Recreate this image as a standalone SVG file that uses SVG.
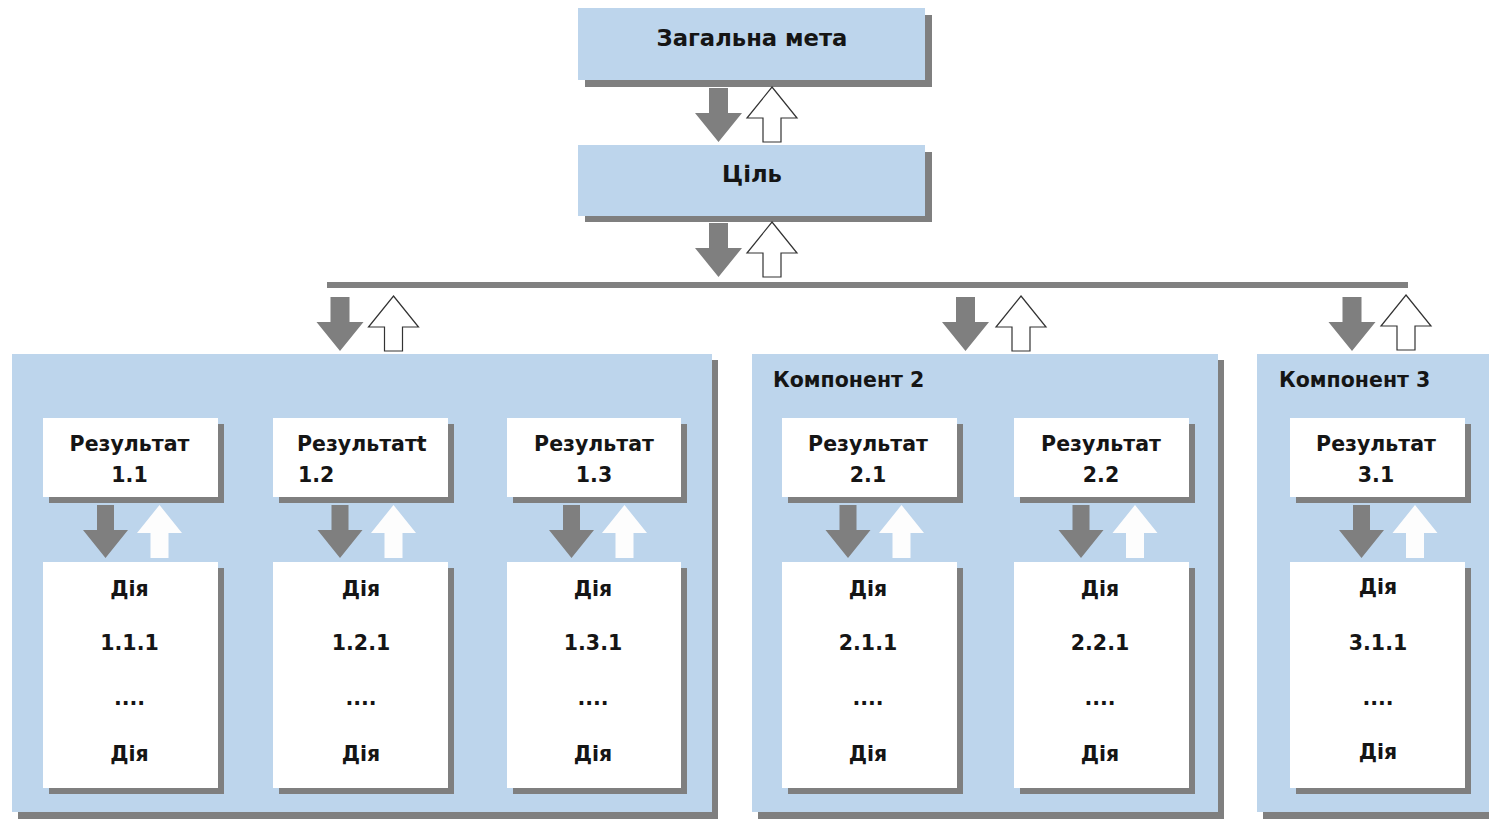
<svg xmlns="http://www.w3.org/2000/svg" xmlns:xlink="http://www.w3.org/1999/xlink" width="1489" height="819" viewBox="0 0 1489 819">
<style>
.bl{fill:#BDD5EC}
.sh{fill:#7f7f7f}
.wb{fill:#ffffff}
.t{font-family:"DejaVu Sans","Liberation Sans",sans-serif;font-weight:bold;font-size:20.5px;fill:#151515;text-anchor:middle}
.big{font-size:22.7px}
.tl{text-anchor:start}
</style>
<defs>
<path id="dn" d="M-9.5,0 H9.5 V25 H23.5 L0,54 L-23.5,25 H-9.5 Z" fill="#7f7f7f"/>
<path id="upo" d="M0,0 L25,31 H9 V55 H-9 V31 H-25 Z" fill="#ffffff" stroke="#333333" stroke-width="1.2"/>
<path id="dni" d="M-8.5,0 H8.5 V25 H22.5 L0,53 L-22.5,25 H-8.5 Z" fill="#7f7f7f"/>
<path id="upw" d="M0,0 L22.5,28 H9 V53 H-9 V28 H-22.5 Z" fill="#fdfdfd"/>
</defs>
<rect width="1489" height="819" fill="#ffffff"/>

<g id="goal">
<rect class="sh" x="585" y="15" width="347" height="72"/>
<rect class="bl" x="578" y="8" width="347" height="72"/>
<text class="t big" x="752" y="46">Загальна мета</text>
</g>
<g id="target">
<rect class="sh" x="585" y="152" width="347" height="70"/>
<rect class="bl" x="578" y="145" width="347" height="71"/>
<text class="t big" x="752" y="182">Ціль</text>
</g>

<g id="comp1">
<rect class="sh" x="18" y="360" width="700" height="459"/>
<rect class="bl" x="12" y="354" width="700" height="458"/>
</g>
<g id="comp2">
<rect class="sh" x="758" y="360" width="466" height="459"/>
<rect class="bl" x="752" y="354" width="466" height="458"/>
<text class="t tl" x="773" y="387">Компонент 2</text>
</g>
<g id="comp3">
<rect class="sh" x="1263" y="360" width="240" height="459"/>
<rect class="bl" x="1257" y="354" width="240" height="458"/>
<text class="t tl" x="1279" y="387">Компонент 3</text>
</g>

<g id="r11"><rect class="sh" x="49" y="424" width="175" height="79"/><rect class="wb" x="43" y="418" width="175" height="79"/>
<text class="t" x="129.5" y="451">Результат</text><text class="t" x="129.5" y="482">1.1</text></g>
<g id="r12"><rect class="sh" x="279" y="424" width="175" height="79"/><rect class="wb" x="273" y="418" width="175" height="79"/>
<text class="t tl" x="297" y="451">Результатt</text><text class="t tl" x="298" y="482">1.2</text></g>
<g id="r13"><rect class="sh" x="513" y="424" width="174" height="79"/><rect class="wb" x="507" y="418" width="174" height="79"/>
<text class="t" x="594" y="451">Результат</text><text class="t" x="594" y="482">1.3</text></g>
<g id="r21"><rect class="sh" x="788" y="424" width="175" height="79"/><rect class="wb" x="782" y="418" width="175" height="79"/>
<text class="t" x="868" y="451">Результат</text><text class="t" x="868" y="482">2.1</text></g>
<g id="r22"><rect class="sh" x="1020" y="424" width="175" height="79"/><rect class="wb" x="1014" y="418" width="175" height="79"/>
<text class="t" x="1101" y="451">Результат</text><text class="t" x="1101" y="482">2.2</text></g>
<g id="r31"><rect class="sh" x="1296" y="424" width="175" height="79"/><rect class="wb" x="1290" y="418" width="175" height="79"/>
<text class="t" x="1376" y="451">Результат</text><text class="t" x="1376" y="482">3.1</text></g>

<g id="a11"><rect class="sh" x="49" y="568" width="175" height="226"/><rect class="wb" x="43" y="562" width="175" height="226"/>
<text class="t" x="129.5" y="596">Дія</text><text class="t" x="129.5" y="650">1.1.1</text><text class="t" x="129.5" y="705">....</text><text class="t" x="129.5" y="761">Дія</text></g>
<g id="a12"><rect class="sh" x="279" y="568" width="175" height="226"/><rect class="wb" x="273" y="562" width="175" height="226"/>
<text class="t" x="361" y="596">Дія</text><text class="t" x="361" y="650">1.2.1</text><text class="t" x="361" y="705">....</text><text class="t" x="361" y="761">Дія</text></g>
<g id="a13"><rect class="sh" x="513" y="568" width="174" height="226"/><rect class="wb" x="507" y="562" width="174" height="226"/>
<text class="t" x="593" y="596">Дія</text><text class="t" x="593" y="650">1.3.1</text><text class="t" x="593" y="705">....</text><text class="t" x="593" y="761">Дія</text></g>
<g id="a21"><rect class="sh" x="788" y="568" width="175" height="226"/><rect class="wb" x="782" y="562" width="175" height="226"/>
<text class="t" x="868" y="596">Дія</text><text class="t" x="868" y="650">2.1.1</text><text class="t" x="868" y="705">....</text><text class="t" x="868" y="761">Дія</text></g>
<g id="a22"><rect class="sh" x="1020" y="568" width="175" height="226"/><rect class="wb" x="1014" y="562" width="175" height="226"/>
<text class="t" x="1100" y="596">Дія</text><text class="t" x="1100" y="650">2.2.1</text><text class="t" x="1100" y="705">....</text><text class="t" x="1100" y="761">Дія</text></g>
<g id="a31"><rect class="sh" x="1296" y="568" width="175" height="226"/><rect class="wb" x="1290" y="562" width="175" height="226"/>
<text class="t" x="1378" y="594">Дія</text><text class="t" x="1378" y="650">3.1.1</text><text class="t" x="1378" y="705">....</text><text class="t" x="1378" y="759">Дія</text></g>

<g id="connectors">
<rect x="327" y="282" width="1081" height="6" fill="#808080"/>
<use href="#dn" x="718.5" y="88"/><use href="#upo" x="772" y="87"/>
<use href="#dn" x="718.5" y="223"/><use href="#upo" x="772" y="222"/>
<use href="#dn" x="340" y="297"/><use href="#upo" x="393.5" y="296"/>
<use href="#dn" x="965.5" y="297"/><use href="#upo" x="1021" y="296"/>
<use href="#dn" x="1352" y="297"/><use href="#upo" x="1406" y="295"/>
<use href="#dni" x="105.5" y="505"/><use href="#upw" x="159.5" y="505"/>
<use href="#dni" x="340" y="505"/><use href="#upw" x="393.5" y="505"/>
<use href="#dni" x="571.5" y="505"/><use href="#upw" x="624.5" y="505"/>
<use href="#dni" x="848" y="505"/><use href="#upw" x="901.5" y="505"/>
<use href="#dni" x="1081" y="505"/><use href="#upw" x="1135" y="505"/>
<use href="#dni" x="1361.5" y="505"/><use href="#upw" x="1415" y="505"/>
</g>
</svg>
